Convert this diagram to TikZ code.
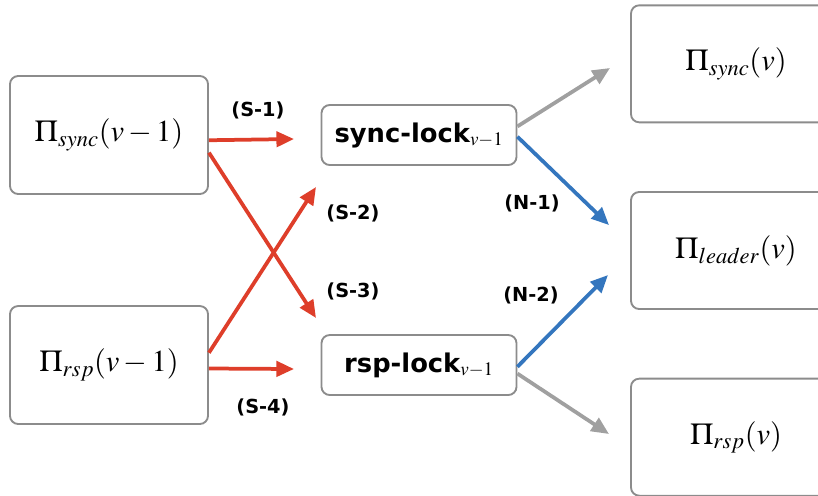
\documentclass[tikz,border=0pt]{standalone}
\usepackage{mathptmx}
\usepackage{fontspec}
\setmainfont{Liberation Serif}
\setsansfont{DejaVu Sans}
\usetikzlibrary{arrows.meta}

\definecolor{sred}{RGB}{222,62,42}
\definecolor{nblue}{RGB}{52,118,190}
\definecolor{fgray}{RGB}{160,160,160}
\definecolor{boxgray}{RGB}{140,140,140}

\begin{document}
\begin{tikzpicture}
[x=0.03cm,y=-0.03cm,>={Triangle[length=15pt,width=13pt]},line width=3.2pt,
                    view node/.style={draw=boxgray,line width=1.6pt,rounded corners=7pt,
                      minimum width=5.94cm,minimum height=3.54cm,font=\fontsize{26}{30}\selectfont},
                    new node/.style={view node,minimum width=6.3cm,minimum height=3.51cm},
                    lock node/.style={draw=boxgray,line width=1.6pt,rounded corners=7pt,
                      minimum width=5.85cm,minimum height=1.8cm,font=\sffamily\bfseries\fontsize{22}{26}\selectfont},
                    lbl/.style={font=\sffamily\bfseries\fontsize{16.5}{18}\selectfont}]

  \useasboundingbox (0,0) rectangle (818,495);
  \clip (0,0) rectangle (818,495);

  \node[view node] (psync) at (109,135) {$\Pi_{sync}(v-1)$};
  \node[view node] (prsp) [below of=psync,node distance=6.9cm] {$\Pi_{rsp}(v-1)$};
  \node[lock node] (synclock) at (419,135) {sync-lock$_{v-1}$};
  \node[lock node] (rsplock) [below of=synclock,node distance=6.9cm] {rsp-lock$_{v-1}$};
  \node[new node] (pleader) at (736,250.5) {$\Pi_{leader}(v)$};
  \node[new node] (psyncv) [above of=pleader,node distance=5.6cm] {$\Pi_{sync}(v)$};
  \node[new node] (prspv) [below of=pleader,node distance=5.6cm] {$\Pi_{rsp}(v)$};

  \coordinate (s1) at (294,139);
  \coordinate (s2) at (316,187);
  \coordinate (s3) at (316,318);
  \coordinate (s4) at (294,369);
  \coordinate (f1) at (610,68);
  \coordinate (n1) at (609,225);
  \coordinate (n2) at (608,275);
  \coordinate (f2) at (609,434);

  \node[lbl] (ls1) at (258,110) {(S-1)};
  \node[lbl] (ls2) at (353,213) {(S-2)};
  \node[lbl] (ls3) at (353,291) {(S-3)};
  \node[lbl] (ls4) at (263,407) {(S-4)};
  \node[lbl] (ln1) at (532,203) {(N-1)};
  \node[lbl] (ln2) at (531,295) {(N-2)};

  \path[->,sred]
    (psync.-3) edge (s1)
    (psync.-10) edge (s3)
    (prsp.7) edge (s2)
    (prsp.-2) edge (s4);
  \path[->,nblue]
    (synclock.-1) edge (n1)
    (rsplock.-1) edge (n2);
  \path[->,fgray]
    (synclock.5) edge (f1)
    (rsplock.-5) edge (f2);
\end{tikzpicture}
\end{document}
